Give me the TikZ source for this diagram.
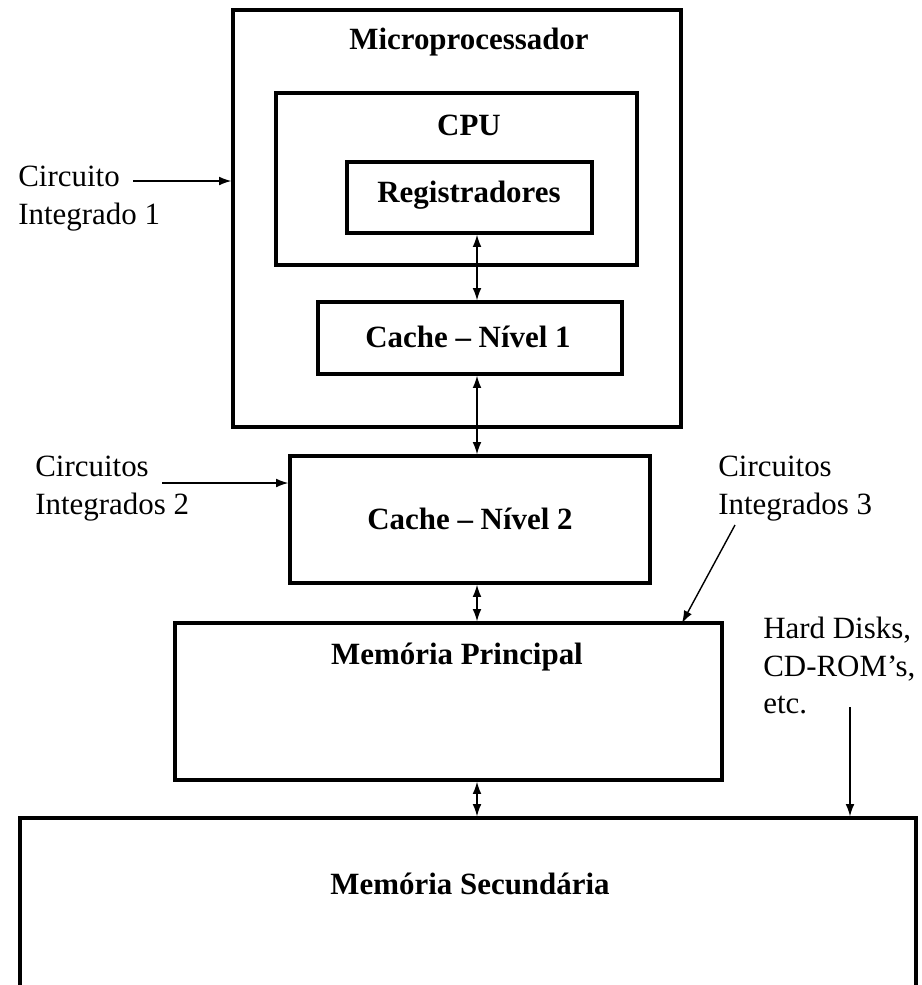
\documentclass[tikz,border=0pt]{standalone}
\usepackage{fontspec}
\setmainfont{Liberation Serif}
\usepackage{tikz}
\usetikzlibrary{calc,arrows.meta}

\tikzset{
    box/.style={draw, line width=1.9pt, rectangle, inner sep=0pt},
    title/.style={font=\fontsize{17.6}{21}\selectfont\bfseries, inner sep=0pt},
    note/.style={font=\fontsize{17.6}{21.2}\selectfont, align=left, anchor=north west, inner sep=0pt},
    link/.style={line width=0.8pt, -{Latex[length=7pt,width=5pt]}},
    both/.style={line width=0.8pt, {Latex[length=7pt,width=5pt]}-{Latex[length=7pt,width=5pt]}}
}

\begin{document}
\begin{tikzpicture}[x=0.02cm, y=-0.02cm]
    \clip (0,0) rectangle (922,985);

    % Boxes
    \node[box, minimum width=8.96cm, minimum height=8.34cm] (micro) at (457,218.5) {};
    \node[box, minimum width=7.22cm, minimum height=3.44cm] (cpu) at (456.5,179) {};
    \node[box, minimum width=4.90cm, minimum height=1.42cm] (reg) at (469.5,197.5) {};
    \node[box, minimum width=6.08cm, minimum height=1.44cm] (cache1) at (470,338) {};
    \node[box, minimum width=7.20cm, minimum height=2.54cm] (cache2) at (470,519.5) {};
    \node[box, minimum width=10.94cm, minimum height=3.14cm] (mainmem) at (448.5,701.5) {};
    \node[box, minimum width=17.92cm, minimum height=5.64cm] (secmem) at (468,959) {};

    % Box titles
    \node[title] (tmicro) at (469,42) {Microprocessador};
    \node[title] (tcpu) at (469,125) {CPU};
    \node[title] (treg) at (469,195) {Registradores};
    \node[title] (tcache1) at (468,337) {Cache -- Nível 1};
    \node[title] (tcache2) at (470,519) {Cache -- Nível 2};
    \node[title] (tmain) at (457,657) {Memória Principal};
    \node[title] (tsec) at (470,884) {Memória Secundária};

    % Data paths between levels
    \coordinate (x0) at (477,0);
    \draw[both] (x0 |- reg.south) -- (x0 |- cache1.north);
    \draw[both] (x0 |- cache1.south) -- (x0 |- cache2.north);
    \draw[both] (x0 |- cache2.south) -- (x0 |- mainmem.north);
    \draw[both] (x0 |- mainmem.south) -- (x0 |- secmem.north);

    % Side notes
    \node[note] (ic1) at (18,166) {Circuito\\Integrado 1};
    \node[note] (ic2) at (35,456) {Circuitos\\Integrados 2};
    \node[note] (ic3) at (718,456) {Circuitos\\Integrados 3};
    \node[note] (disks) at (763,617) {Hard Disks,\\CD-ROM's,\\etc.};

    \coordinate (a1) at (133,181);
    \coordinate (a2) at (162,483);
    \coordinate (a3) at (735,525);
    \coordinate (a3e) at (682,623);
    \coordinate (a4) at (850,707);
    \draw[link] (a1) -- (a1 -| micro.west);
    \draw[link] (a2) -- (a2 -| cache2.west);
    \draw[link] (a3) -- (a3e);
    \draw[link] (a4) -- (a4 |- secmem.north);
\end{tikzpicture}
\end{document}
